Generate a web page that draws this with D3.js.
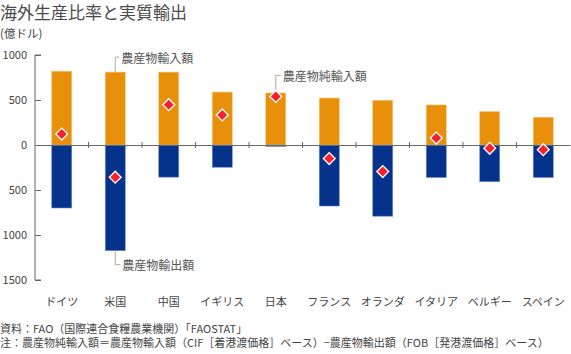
<!DOCTYPE html>
<html>
<head>
<meta charset="utf-8">
<script src="https://cdn.jsdelivr.net/npm/d3@7"></script>
<style>
  body { margin: 0; background: #fff; }
  text { font-family: "Noto Sans CJK JP", "Noto Sans", sans-serif; }
</style>
</head>
<body>
<script>
const countries = ["ドイツ", "米国", "中国", "イギリス", "日本", "フランス", "オランダ", "イタリア", "ベルギー", "スペイン"];
const imports = [820, 810, 810, 588, 578, 522, 497, 445, 371, 309];
const exports = [700, 1174, 357, 247, 15, 678, 791, 361, 408, 361];
const netImports = [121, -357, 448, 334, 540, -151, -295, 77, -37, -52];
const yTicks = [1000, 500, 0, -500, -1000, -1500];

const width = 571, height = 354;
const margin = { top: 55, right: 1, bottom: 74, left: 35 };

const svg = d3.select("body").append("svg")
  .attr("width", width)
  .attr("height", height);

const x = d3.scaleBand()
  .domain(countries)
  .range([margin.left, width - margin.right])
  .paddingInner(0)
  .paddingOuter(0);

const y = d3.scaleLinear()
  .domain([-1500, 1000])
  .range([height - margin.bottom, margin.top]);

const barW = 20;
const cx = d => x(d) + x.bandwidth() / 2;

// title
svg.append("text")
  .attr("x", 0).attr("y", 19)
  .attr("font-size", 17)
  .attr("fill", "#4a4a4a")
  .text("海外生産比率と実質輸出");

svg.append("text")
  .attr("x", 0).attr("y", 38)
  .attr("font-size", 11.5)
  .attr("fill", "#444")
  .text("(億ドル)");

// bars
const rows = countries.map((c, i) => ({ c, imp: imports[i], exp: exports[i], net: netImports[i] }));

svg.append("g")
  .selectAll("rect")
  .data(rows)
  .join("rect")
  .attr("x", d => cx(d.c) - barW / 2)
  .attr("y", d => y(d.imp))
  .attr("width", barW)
  .attr("height", d => y(0) - y(d.imp))
  .attr("fill", "#e8900a")
  .attr("stroke", "#f4c57e")
  .attr("stroke-width", 0.6);

svg.append("g")
  .selectAll("rect")
  .data(rows)
  .join("rect")
  .attr("x", d => cx(d.c) - barW / 2)
  .attr("y", y(0))
  .attr("width", barW)
  .attr("height", d => y(-d.exp) - y(0))
  .attr("fill", "#05328a")
  .attr("stroke", "#6c8ac4")
  .attr("stroke-width", 0.6);

// y axis
const yAxis = d3.axisRight(y)
  .tickValues(yTicks)
  .tickSize(6)
  .tickFormat(d => Math.abs(d));

const ya = svg.append("g")
  .attr("transform", `translate(${margin.left},0)`)
  .call(yAxis);
ya.select(".domain").attr("stroke", "#666").attr("d", `M6,${y(1000)}H0V${y(-1500)}H6`);
ya.selectAll(".tick line").attr("stroke", "#666");
ya.selectAll(".tick text")
  .attr("x", -8)
  .attr("text-anchor", "end")
  .attr("font-size", 11)
  .attr("fill", "#444")
  .attr("font-family", "'Noto Sans CJK JP', sans-serif");

// zero line with separators
const xAxis = d3.axisBottom(x).tickSize(0).tickFormat("");
const xa = svg.append("g")
  .attr("transform", `translate(0,${y(0)})`)
  .call(xAxis);
xa.select(".domain").attr("stroke", "#666");
xa.selectAll(".tick").remove();
xa.selectAll("line.sep")
  .data(countries.slice(1))
  .join("line")
  .attr("class", "sep")
  .attr("x1", d => x(d)).attr("x2", d => x(d))
  .attr("y1", -3).attr("y2", 3)
  .attr("stroke", "#666");

// category labels
svg.append("g")
  .selectAll("text")
  .data(countries)
  .join("text")
  .attr("x", d => cx(d))
  .attr("y", 306)
  .attr("text-anchor", "middle")
  .attr("font-size", 11)
  .attr("fill", "#444")
  .text(d => d);

// net import diamonds
svg.append("g")
  .selectAll("path")
  .data(rows)
  .join("path")
  .attr("d", d3.symbol(d3.symbolSquare, 70))
  .attr("transform", d => `translate(${cx(d.c)},${y(d.net)}) rotate(45)`)
  .attr("fill", "#f5222d")
  .attr("stroke", "#fff")
  .attr("stroke-width", 1.3);

// annotations
const ann = svg.append("g").attr("fill", "none").attr("stroke", "#aaa").attr("stroke-width", 1);
const us = rows[1], jp = rows[4];
ann.append("path").attr("d", `M${cx(us.c)},${y(us.imp)}V${y(us.imp) - 15}H${cx(us.c) + 4}`);
ann.append("path").attr("d", `M${cx(jp.c)},${y(jp.net) - 6}V${y(jp.net) - 21}H${cx(jp.c) + 5}`);
ann.append("path").attr("d", `M${cx(us.c)},${y(-us.exp)}V${y(-us.exp) + 14}H${cx(us.c) + 5}`);

const label = (tx, ty, t) => svg.append("text")
  .attr("x", tx).attr("y", ty)
  .attr("font-size", 12)
  .attr("fill", "#555")
  .attr("dominant-baseline", "central")
  .text(t);
label(cx(us.c) + 6, y(us.imp) - 15, "農産物輸入額");
label(cx(jp.c) + 7, y(jp.net) - 21, "農産物純輸入額");
label(cx(us.c) + 7, y(-us.exp) + 14, "農産物輸出額");

// notes
svg.append("text")
  .attr("x", 0).attr("y", 333)
  .attr("font-size", 11)
  .attr("fill", "#444")
  .text("資料：FAO（国際連合食糧農業機関）「FAOSTAT」");
svg.append("text")
  .attr("x", 0).attr("y", 347)
  .attr("font-size", 11)
  .attr("fill", "#444")
  .text("注：農産物純輸入額＝農産物輸入額（CIF［着港渡価格］ベース）−農産物輸出額（FOB［発港渡価格］ベース）");
</script>
</body>
</html>
